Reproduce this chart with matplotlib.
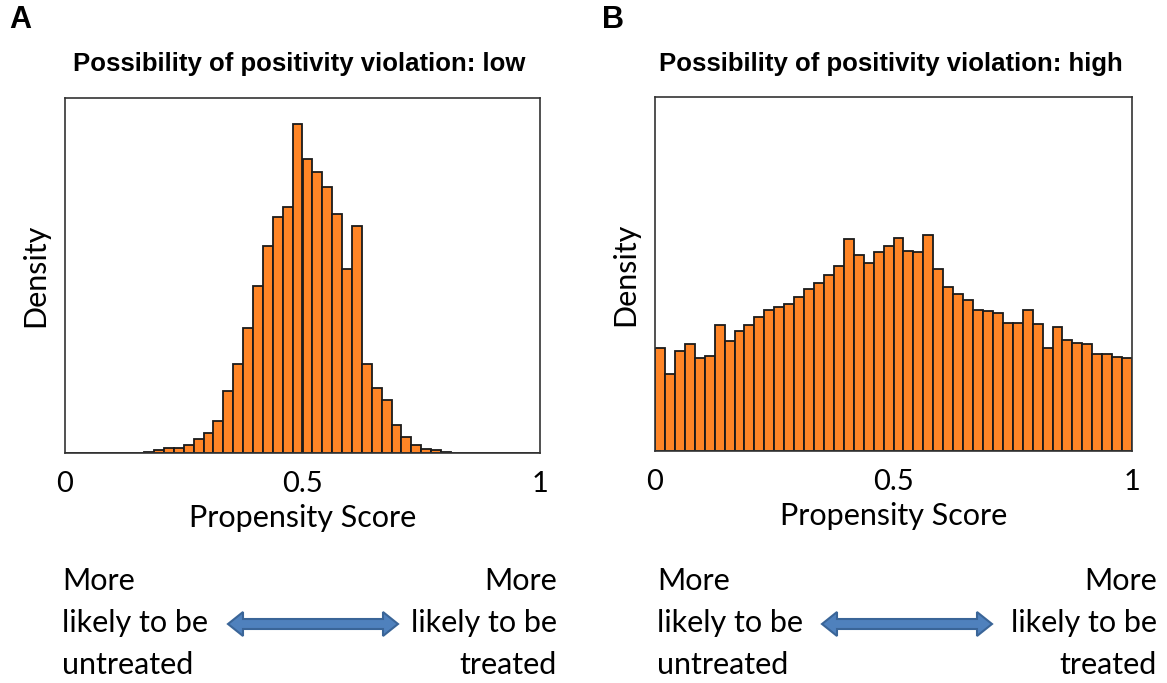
import numpy as np
import matplotlib
matplotlib.use('Agg')
import matplotlib.pyplot as plt
from matplotlib.patches import Polygon

# histogram heights (arbitrary density units), 48 bins over 0..1
bin_edges = np.linspace(0, 1, 49)
dens_low = [0]*8 + [4, 8, 16, 15, 24, 41, 59, 97, 186, 267, 374, 501, 621, 706, 736,
                    987, 880, 843, 796, 715, 552, 680, 267, 195, 160, 85, 49, 24, 12, 8, 3] + [0]*9
dens_high = [309, 232, 300, 321, 279, 287, 380, 330, 360, 380, 402, 423, 432, 441, 462, 488,
             505, 530, 556, 637, 590, 564, 598, 616, 641, 602, 598, 649, 547, 492, 471, 454,
             424, 420, 416, 385, 385, 424, 381, 309, 373, 335, 326, 321, 292, 292, 284, 280]
dens_low = np.array(dens_low) / 200.0
dens_high = np.array(dens_high) / 200.0
ymax = 1064 / 200.0

titles = ['Possibility of positivity violation: low', 'Possibility of positivity violation: high']
letters = ['A', 'B']
xticks = [0, 0.5, 1]
xtick_labels = ['0', '0.5', '1']

W, H = 1167, 683
fig = plt.figure(figsize=(W/100, H/100), dpi=100)

body = 'Lato'
orange = '#FF8526'

def px(x, y):
    return x / W, 1 - y / H

panels = [
    dict(left=65, right=540, top=98, bottom=453, dens=dens_low, letter_x=20, text_l=62, text_r=557, arr=(228, 398)),
    dict(left=655, right=1132, top=97, bottom=451, dens=dens_high, letter_x=613, text_l=657, text_r=1157, arr=(822, 992)),
]

for i, p in enumerate(panels):
    ax = fig.add_axes([p['left']/W, 1 - p['bottom']/H, (p['right']-p['left'])/W, (p['bottom']-p['top'])/H])
    ax.bar(bin_edges[:-1], p['dens'], width=1/48, align='edge', color=orange,
           edgecolor='#1a1a1a', linewidth=1.3)
    ax.set_xlim(0, 1)
    ax.set_ylim(0, ymax)
    ax.set_yticks([])
    ax.set_xticks(xticks)
    ax.set_xticklabels(xtick_labels, fontsize=21, family=body)
    ax.tick_params(axis='x', length=0, pad=13)
    ax.set_xlabel('Propensity Score', fontsize=22, family=body, labelpad=5)
    ax.set_ylabel('Density', fontsize=22, family=body, labelpad=11)
    for s in ax.spines.values():
        s.set_color('#333333')
        s.set_linewidth(1.2)

    cx = (p['left'] + p['right']) / 2
    fig.text(*px(cx - 3, 64), titles[i], ha='center', va='center', fontsize=18.5,
             fontweight='bold', family='Liberation Sans')
    fig.text(*px(p['letter_x'], 20), letters[i], ha='center', va='center', fontsize=22,
             fontweight='bold', family='Liberation Sans')

    fig.text(*px(p['text_l'], 623), 'More\nlikely to be\nuntreated', ha='left', va='center',
             fontsize=22, family=body, linespacing=1.62)
    fig.text(*px(p['text_r'], 623), 'More\nlikely to be\ntreated', ha='right', va='center',
             fontsize=22, family=body, multialignment='right', linespacing=1.62)

    # double-headed block arrow
    x0, x1 = p['arr']
    yc = 624
    sh, hh, hl = 5, 12, 15
    pts = [(x0, yc), (x0 + hl, yc - hh), (x0 + hl, yc - sh), (x1 - hl, yc - sh), (x1 - hl, yc - hh),
           (x1, yc), (x1 - hl, yc + hh), (x1 - hl, yc + sh), (x0 + hl, yc + sh), (x0 + hl, yc + hh)]
    pts = [px(a, b) for a, b in pts]
    fig.patches.append(Polygon(pts, closed=True, transform=fig.transFigure, facecolor='#4F81BD',
                               edgecolor='#3A6598', linewidth=1.5))

fig.savefig('out.png', dpi=100)
